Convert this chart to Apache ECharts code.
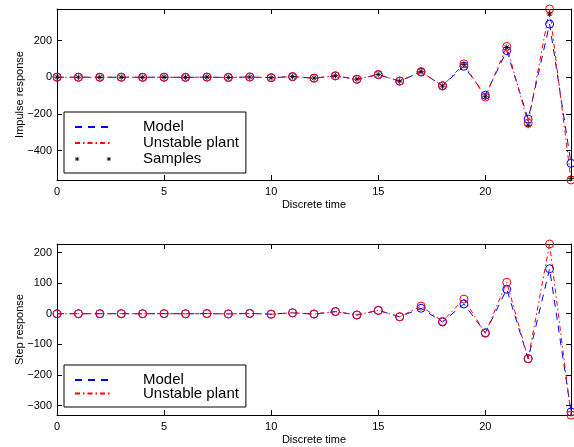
<!DOCTYPE html>
<html>
<head>
<meta charset="utf-8">
<script src="https://cdn.jsdelivr.net/npm/echarts@6/dist/echarts.min.js"></script>
<style>
  html, body { margin: 0; padding: 0; background: #fff; }
  #chart { width: 574px; height: 447px; }
</style>
</head>
<body>
<div id="chart"></div>
<script>
// discrete time steps
const steps = [0, 1, 2, 3, 4, 5, 6, 7, 8, 9, 10, 11, 12, 13, 14, 15, 16, 17, 18, 19, 20, 21, 22, 23, 24];

// impulse response
const impulsePlant = [0, 0.1, -0.1, 0.2, -0.2, 0.3, -0.5, 0.7, -1.1, 1.6, -2.4, 3.5, -5, 8, -11, 15, -21, 31, -48, 73, -108, 168, -250, 372, -560];
const impulseModel = [0, 0.1, -0.1, 0.2, -0.2, 0.3, -0.5, 0.7, -1, 1.5, -2.3, 3.3, -5, 7.5, -11, 14, -21, 28, -46, 60, -98, 145, -228, 290, -469];
const impulseSamples = [0, 0.3, -0.2, 0.1, -0.4, 0.5, -0.3, 0.9, -1.3, 1.4, -2.7, 3.8, -4.6, 8.3, -10.5, 15.4, -21.5, 32, -49, 70, -106, 163, -262, 345, -552];

// step response
const stepPlant = [0, 0.1, 0, 0.2, 0, 0.3, -0.2, 0.5, -0.6, 1, -1.4, 3, -1, 7, -4, 11, -10, 25, -25, 48, -64, 103, -147, 228, -331];
const stepModel = [0, 0.1, 0, 0.2, 0, 0.3, -0.2, 0.5, -0.6, 1, -1.4, 3, -1, 7, -4, 11, -10, 18, -27, 32, -62, 80, -147, 147, -321];

// axis limits (tight, as in the original figure)
const impulseRange = [-560, 372];
const stepRange = [-331, 228];
const timeRange = [0, 24];

const font = "'Liberation Sans', Arial, Helvetica, sans-serif";
const pairs = vals => steps.map((t, i) => [t, vals[i]]);
const minus = v => (v < 0 ? '\u2212' + (-v) : String(v));

const blue = '#0000ff';
const red = '#ff0000';

const asterisk = 'path://M0,-5L0,5M-5,0L5,0M-3.5,-3.5L3.5,3.5M-3.5,3.5L3.5,-3.5';
const twoAsterisks = 'path://M2.5,0L2.5,5M0,2.5L5,2.5M0.7,0.7L4.3,4.3M0.7,4.3L4.3,0.7' +
  'M39.5,0L39.5,5M37,2.5L42,2.5M37.7,0.7L41.3,4.3M37.7,4.3L41.3,0.7';

function xAxisFor(grid, main) {
  return {
    type: 'value', gridIndex: grid, min: timeRange[0], max: timeRange[1],
    position: main ? 'bottom' : 'top',
    name: main ? 'Discrete time' : '', nameLocation: 'middle', nameGap: 19,
    nameMoveOverlap: false,
    nameTextStyle: { color: '#000', fontSize: 11, fontFamily: font },
    axisLine: { show: true, onZero: false, lineStyle: { color: '#000', width: 1 } },
    axisTick: { show: true, inside: true, length: 5, lineStyle: { color: '#000' } },
    axisLabel: {
      show: main, margin: 6, color: '#000', fontSize: 11, fontFamily: font,
      formatter: v => (v % 5 === 0 ? String(v) : '')
    },
    splitLine: { show: false }
  };
}

function yAxisFor(grid, main, range, step, title) {
  return {
    type: 'value', gridIndex: grid, min: range[0], max: range[1], splitNumber: 5,
    position: main ? 'left' : 'right',
    name: main ? title : '', nameLocation: 'middle', nameGap: 32,
    nameMoveOverlap: false,
    nameTextStyle: { color: '#000', fontSize: 11, fontFamily: font },
    axisLine: { show: true, onZero: false, lineStyle: { color: '#000', width: 1 } },
    axisTick: { show: true, inside: true, length: 5, lineStyle: { color: '#000' } },
    axisLabel: {
      show: main, margin: 5, color: '#000', fontSize: 11, fontFamily: font,
      formatter: v => (v % step === 0 ? minus(v) : '')
    },
    splitLine: { show: false }
  };
}

function lineSeries(name, vals, color, dashed, xi, yi) {
  return {
    name: name, type: 'line', xAxisIndex: xi, yAxisIndex: yi,
    data: pairs(vals), clip: false, animation: false,
    symbol: 'circle', symbolSize: 8, showAllSymbol: true,
    itemStyle: { color: 'transparent', borderColor: color, borderWidth: 1 },
    lineStyle: { color: color, width: 1, type: dashed ? [7, 6] : [5, 3, 1.5, 3] },
    emphasis: { disabled: true }
  };
}

function legendItem(name) {
  if (name === 'Samples') {
    return { name: name, icon: twoAsterisks, itemStyle: { borderColor: '#000', borderWidth: 1 } };
  }
  return { name: name, itemStyle: { opacity: 0 } };
}

function legendFor(top, names, gap, pad) {
  return {
    orient: 'vertical', left: 64, top: top,
    data: names.map(legendItem),
    itemWidth: 36, itemHeight: 10, itemGap: gap,
    padding: pad,
    backgroundColor: '#fff', borderColor: '#000', borderWidth: 1, borderRadius: 0,
    selectedMode: false,
    textStyle: { color: '#000', fontSize: 15, lineHeight: 13, fontFamily: font, padding: [0, 0, 0, 27] }
  };
}

const chart = echarts.init(document.getElementById('chart'));
chart.setOption({
  animation: false,
  backgroundColor: '#fff',
  grid: [
    { left: 57, top: 9, width: 514, height: 171 },
    { left: 57, top: 244, width: 514, height: 171 }
  ],
  xAxis: [xAxisFor(0, true), xAxisFor(0, false), xAxisFor(1, true), xAxisFor(1, false)],
  yAxis: [
    yAxisFor(0, true, impulseRange, 200, 'Impulse response'),
    yAxisFor(0, false, impulseRange, 200, ''),
    yAxisFor(1, true, stepRange, 100, 'Step response'),
    yAxisFor(1, false, stepRange, 100, '')
  ],
  legend: [
    legendFor(112, ['Model', 'Unstable plant', 'Samples'], 1, [7.5, 7, 6.5, 10]),
    legendFor(365, ['Model', 'Unstable plant'], -1.5, [7.5, 7, 6, 10])
  ],
  series: [
    lineSeries('Model', impulseModel, blue, true, 0, 0),
    lineSeries('Unstable plant', impulsePlant, red, false, 0, 0),
    {
      name: 'Samples', type: 'scatter', xAxisIndex: 0, yAxisIndex: 0, z: 3,
      data: pairs(impulseSamples), clip: false, animation: false,
      symbol: asterisk, symbolSize: 6,
      itemStyle: { color: '#000', borderColor: '#000', borderWidth: 1 },
      emphasis: { disabled: true }
    },
    lineSeries('Model', stepModel, blue, true, 2, 2),
    lineSeries('Unstable plant', stepPlant, red, false, 2, 2)
  ]
});
</script>
</body>
</html>
